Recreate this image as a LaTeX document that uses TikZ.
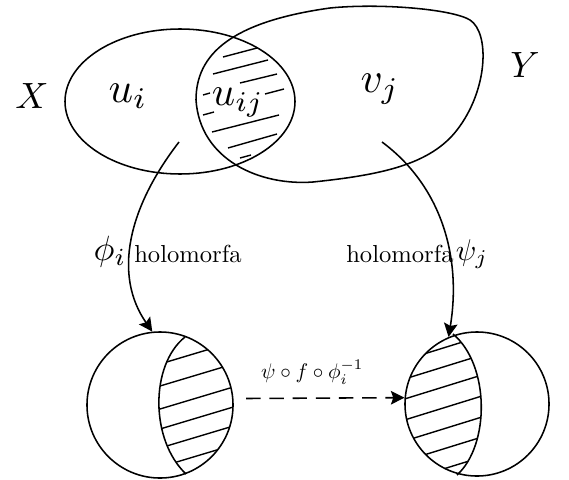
\documentclass[tikz,border=0pt]{standalone}
\usepackage{amsmath}
\usetikzlibrary{arrows.meta}

\begin{document}
\begin{tikzpicture}[x=0.025cm,y=-0.025cm,line width=1.1pt,
      >={Stealth[length=3.4mm,width=3.4mm,inset=0.6mm]},
      disc/.style={circle,draw,minimum size=#1,inner sep=0pt},
      hatch/.style={line width=1pt},
      set/.style={anchor=base,inner sep=0pt,scale=3.05},
      side/.style={anchor=base,inner sep=0pt,scale=2.6},
      word/.style={anchor=base,inner sep=0pt,scale=1.75}]
  \useasboundingbox (0,0) rectangle (569,479);

  % the two charts on the surface
  \draw (180,101.5) ellipse [x radius=115, y radius=72.5];
  \draw (196,100) .. controls (196,55) and (230,22) .. (330,8)
    .. controls (380,3) and (452,9) .. (470,20)
    .. controls (490,33) and (488,90) .. (457,130)
    .. controls (430,165) and (380,175) .. (313,182)
    .. controls (260,186) and (200,160) .. (196,100) -- cycle;
  \foreach \xa/\ya/\xb/\yb in {223/57/257/48, 213/74/268/60, 240/83/277/74,
      203/95/210/93, 265/94/284/89, 203/115/214/112,
      212/132/279/115, 228/148/277/134, 240/158/251/155}
    \draw[hatch] (\xa,\ya) -- (\xb,\yb);

  \node[side]          (X)   at (32,108)  {$X$};
  \node[set]           (ui)  at (128,102) {$u_i$};
  \node[set,scale=0.95] (uij) at (238,105) {$u_{ij}$};
  \node[set]           (vj)  at (380,92)  {$v_j$};
  \node[side]          (Y)   at (525,77)  {$Y$};

  % images in the plane
  \node[disc=3.65cm] (lc) at (160,405) {};
  \node[disc=3.6cm]  (rc) at (477,404) {};
  \draw (185,337) .. controls (150,365) and (150,440) .. (186,474);
  \draw (453,334) .. controls (490,365) and (490,445) .. (457,475);
  \begin{scope}
    \clip (160,405) circle [radius=73];
    \clip (185,337) .. controls (150,365) and (150,440) .. (186,474)
      -- (186,495) -- (260,495) -- (260,320) -- (185,320) -- cycle;
    \foreach \c in {355,377,400,420,439,458}
      \draw[hatch] (140,{\c+15}) -- (240,{\c-15});
  \end{scope}
  \begin{scope}
    \clip (477,404) circle [radius=72];
    \clip (453,334) .. controls (490,365) and (490,445) .. (457,475)
      -- (457,495) -- (395,495) -- (395,320) -- (453,320) -- cycle;
    \foreach \c in {349,368,388,409,430,450,470}
      \draw[hatch] (390,{\c+15.5}) -- (500,{\c-18.6});
  \end{scope}

  % charts
  \coordinate (pi) at (179,142);
  \coordinate (pj) at (382,142);
  \draw[->] (pi) .. controls (128,208) and (113,275) .. (lc.96);
  \draw[->] (pj) .. controls (440,185) and (462,255) .. (rc.113);
  \node[side,scale=0.96] (phi)  at (110,260) {$\phi_i$};
  \node[word]            (holl) at (188,262) {holomorfa};
  \node[word]            (holr) at (400,262) {holomorfa};
  \node[side,scale=0.82] (psi)  at (472,260) {$\psi_j$};

  \draw[->,dash pattern=on 3.6mm off 2.2mm,shorten <=9pt] (lc.5) -- (rc.175)
    node[pos=0.46,above=9pt,inner sep=0pt,scale=1.5] {$\psi\circ f\circ\phi_i^{-1}$};
\end{tikzpicture}
\end{document}
